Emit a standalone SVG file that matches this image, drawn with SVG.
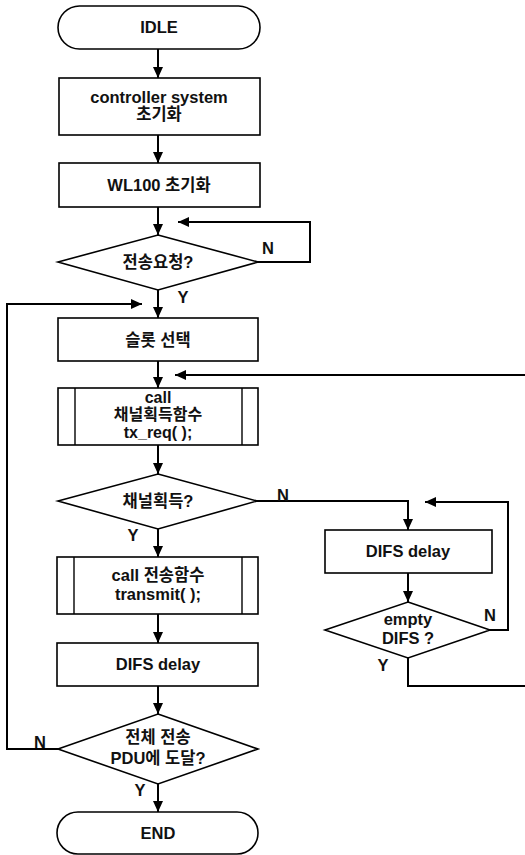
<svg xmlns="http://www.w3.org/2000/svg" width="525" height="855" viewBox="0 0 525 855">
  <defs>
    <marker id="arrow" markerUnits="userSpaceOnUse" markerWidth="12" markerHeight="12" viewBox="0 0 12 12" refX="11" refY="6" orient="auto">
      <path d="M0,1 L11,6 L0,11 Z" fill="#000"/>
    </marker>
    <style>
      .shape { fill: #fff; stroke: #000; stroke-width: 1.6; }
      .inner { fill: none; stroke: #000; stroke-width: 1.4; }
      .conn { fill: none; stroke: #000; stroke-width: 2; }
      .lbl { font-family: "Liberation Sans", "Noto Sans CJK KR", Arial, sans-serif; font-size: 16.5px; font-weight: bold; fill: #111; text-anchor: middle; }
      .tight { font-size: 16px; }
      .yn { font-family: "Liberation Sans", Arial, sans-serif; font-size: 16.5px; font-weight: bold; fill: #111; text-anchor: middle; }
    </style>
  </defs>
  <rect width="525" height="855" fill="#fff"/>

  <!-- flow lines -->
  <g id="connectors">
    <path class="conn" d="M158,49 V78" marker-end="url(#arrow)"/>
    <path class="conn" d="M158,135 V163" marker-end="url(#arrow)"/>
    <path class="conn" d="M158,207 V235" marker-end="url(#arrow)"/>
    <path class="conn" d="M258,262 H310 V222 H178" marker-end="url(#arrow)"/>
    <path class="conn" d="M158,290 V318" marker-end="url(#arrow)"/>
    <path class="conn" d="M58,749 H7 V304 H142" marker-end="url(#arrow)"/>
    <path class="conn" d="M158,361 V388" marker-end="url(#arrow)"/>
    <path class="conn" d="M525,375 H175" marker-end="url(#arrow)"/>
    <path class="conn" d="M158,445 V474" marker-end="url(#arrow)"/>
    <path class="conn" d="M257,501 H408 V530" marker-end="url(#arrow)"/>
    <path class="conn" d="M158,529 V557" marker-end="url(#arrow)"/>
    <path class="conn" d="M158,614 V643" marker-end="url(#arrow)"/>
    <path class="conn" d="M158,686 V714" marker-end="url(#arrow)"/>
    <path class="conn" d="M158,784 V812" marker-end="url(#arrow)"/>
    <path class="conn" d="M408,573 V602" marker-end="url(#arrow)"/>
    <path class="conn" d="M490,630 H508 V502 H425" marker-end="url(#arrow)"/>
    <path class="conn" d="M408,658 V686 H525"/>
    <text class="yn" x="268" y="254">N</text>
    <text class="yn" x="183" y="303">Y</text>
    <text class="yn" x="283" y="501">N</text>
    <text class="yn" x="133" y="541">Y</text>
    <text class="yn" x="490" y="621">N</text>
    <text class="yn" x="383" y="671">Y</text>
    <text class="yn" x="40" y="748">N</text>
    <text class="yn" x="140" y="796">Y</text>
  </g>

  <g id="idle">
    <rect class="shape" x="58" y="6" width="202" height="43" rx="21.5"/>
    <text class="lbl" x="159" y="33">IDLE</text>
  </g>

  <g id="init-controller">
    <rect class="shape" x="59" y="78" width="201" height="57"/>
    <text class="lbl" x="159" y="103">controller system</text>
    <text class="lbl" x="159" y="120">초기화</text>
  </g>

  <g id="init-wl100">
    <rect class="shape" x="59" y="163" width="201" height="44"/>
    <text class="lbl" x="159" y="191">WL100 초기화</text>
  </g>

  <g id="tx-request">
    <polygon class="shape" points="158,235 258,262 158,290 58,262"/>
    <text class="lbl" x="158" y="268">전송요청?</text>
  </g>

  <g id="slot-select">
    <rect class="shape" x="58" y="318" width="200" height="43"/>
    <text class="lbl" x="158" y="346">슬롯 선택</text>
  </g>

  <g id="call-tx-req">
    <rect class="shape" x="58" y="388" width="200" height="57"/>
    <line class="inner" x1="75" y1="388" x2="75" y2="445"/>
    <line class="inner" x1="242" y1="388" x2="242" y2="445"/>
    <text class="lbl tight" x="158" y="403">call</text>
    <text class="lbl tight" x="158" y="420">채널획득함수</text>
    <text class="lbl tight" x="158" y="438">tx_req( );</text>
  </g>

  <g id="channel-acquired">
    <polygon class="shape" points="158,474 257,501 158,529 58,501"/>
    <text class="lbl" x="158" y="507">채널획득?</text>
  </g>

  <g id="difs-delay-wait">
    <rect class="shape" x="325" y="530" width="167" height="43"/>
    <text class="lbl" x="408" y="557">DIFS delay</text>
  </g>

  <g id="empty-difs">
    <polygon class="shape" points="408,602 490,630 408,658 325,630"/>
    <text class="lbl" x="408" y="625">empty</text>
    <text class="lbl" x="408" y="644">DIFS ?</text>
  </g>

  <g id="call-transmit">
    <rect class="shape" x="57" y="557" width="201" height="57"/>
    <line class="inner" x1="74" y1="557" x2="74" y2="614"/>
    <line class="inner" x1="242" y1="557" x2="242" y2="614"/>
    <text class="lbl" x="158" y="581">call 전송함수</text>
    <text class="lbl" x="158" y="600">transmit( );</text>
  </g>

  <g id="difs-delay">
    <rect class="shape" x="57" y="643" width="201" height="43"/>
    <text class="lbl" x="158" y="670">DIFS delay</text>
  </g>

  <g id="all-pdu-sent">
    <polygon class="shape" points="158,714 258,749 158,784 58,749"/>
    <text class="lbl" x="158" y="743">전체 전송</text>
    <text class="lbl" x="158" y="764">PDU에 도달?</text>
  </g>

  <g id="end">
    <rect class="shape" x="57" y="812" width="201" height="42" rx="21"/>
    <text class="lbl" x="158" y="839">END</text>
  </g>
</svg>
